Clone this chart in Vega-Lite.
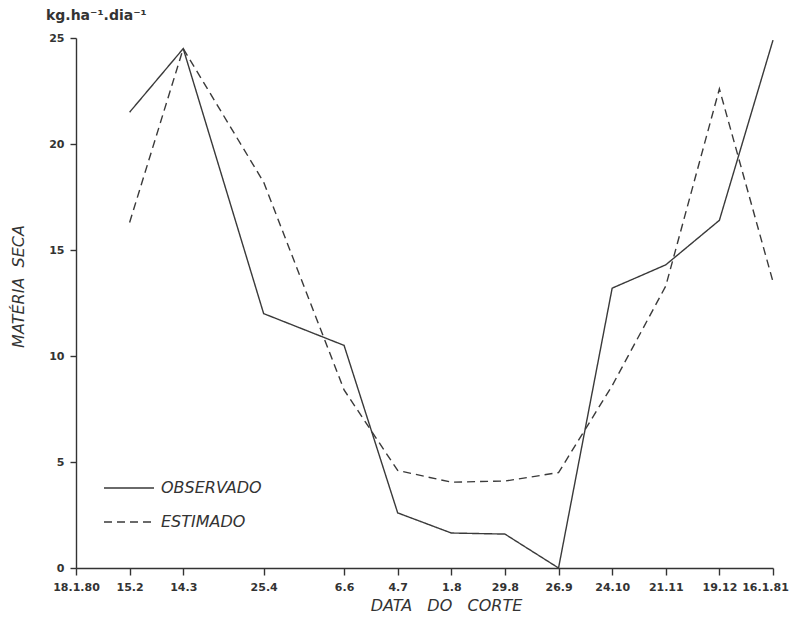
{
  "$schema": "https://vega.github.io/schema/vega-lite/v6.json",
  "autosize": "none",
  "width": 697,
  "height": 530,
  "padding": {"left": 76, "top": 38, "right": 17, "bottom": 51},
  "background": "white",
  "title": {
    "text": "kg.ha⁻¹.dia⁻¹",
    "anchor": "start",
    "frame": "group",
    "dx": -30,
    "offset": 9,
    "font": "DejaVu Sans",
    "fontSize": 14,
    "fontWeight": "bold",
    "color": "#333"
  },
  "data": {
    "values": [
      {"date": "1980-02-15", "serie": "OBSERVADO", "valor": 21.5},
      {"date": "1980-03-14", "serie": "OBSERVADO", "valor": 24.5},
      {"date": "1980-04-25", "serie": "OBSERVADO", "valor": 12.0},
      {"date": "1980-06-06", "serie": "OBSERVADO", "valor": 10.5},
      {"date": "1980-07-04", "serie": "OBSERVADO", "valor": 2.6},
      {"date": "1980-08-01", "serie": "OBSERVADO", "valor": 1.65},
      {"date": "1980-08-29", "serie": "OBSERVADO", "valor": 1.6},
      {"date": "1980-09-26", "serie": "OBSERVADO", "valor": 0.0},
      {"date": "1980-10-24", "serie": "OBSERVADO", "valor": 13.2},
      {"date": "1980-11-21", "serie": "OBSERVADO", "valor": 14.3},
      {"date": "1980-12-19", "serie": "OBSERVADO", "valor": 16.4},
      {"date": "1981-01-16", "serie": "OBSERVADO", "valor": 24.9},
      {"date": "1980-02-15", "serie": "ESTIMADO", "valor": 16.3},
      {"date": "1980-03-14", "serie": "ESTIMADO", "valor": 24.5},
      {"date": "1980-04-25", "serie": "ESTIMADO", "valor": 18.2},
      {"date": "1980-06-06", "serie": "ESTIMADO", "valor": 8.4},
      {"date": "1980-07-04", "serie": "ESTIMADO", "valor": 4.6},
      {"date": "1980-08-01", "serie": "ESTIMADO", "valor": 4.05},
      {"date": "1980-08-29", "serie": "ESTIMADO", "valor": 4.1},
      {"date": "1980-09-26", "serie": "ESTIMADO", "valor": 4.5},
      {"date": "1980-10-24", "serie": "ESTIMADO", "valor": 8.6},
      {"date": "1980-11-21", "serie": "ESTIMADO", "valor": 13.3},
      {"date": "1980-12-19", "serie": "ESTIMADO", "valor": 22.6},
      {"date": "1981-01-16", "serie": "ESTIMADO", "valor": 13.5}
    ]
  },
  "mark": {"type": "line", "color": "#3a3a3a", "strokeWidth": 1.4},
  "encoding": {
    "x": {
      "field": "date",
      "type": "temporal",
      "scale": {
        "type": "utc",
        "domain": [
          {"year": 1980, "month": 1, "date": 18, "utc": true},
          {"year": 1981, "month": 1, "date": 16, "utc": true}
        ],
        "nice": false
      },
      "axis": {
        "title": "DATA\u00a0\u00a0\u00a0DO\u00a0\u00a0\u00a0CORTE",
        "values": [
          {"year": 1980, "month": 1, "date": 18, "utc": true},
          {"year": 1980, "month": 2, "date": 15, "utc": true},
          {"year": 1980, "month": 3, "date": 14, "utc": true},
          {"year": 1980, "month": 4, "date": 25, "utc": true},
          {"year": 1980, "month": 6, "date": 6, "utc": true},
          {"year": 1980, "month": 7, "date": 4, "utc": true},
          {"year": 1980, "month": 8, "date": 1, "utc": true},
          {"year": 1980, "month": 8, "date": 29, "utc": true},
          {"year": 1980, "month": 9, "date": 26, "utc": true},
          {"year": 1980, "month": 10, "date": 24, "utc": true},
          {"year": 1980, "month": 11, "date": 21, "utc": true},
          {"year": 1980, "month": 12, "date": 19, "utc": true},
          {"year": 1981, "month": 1, "date": 16, "utc": true}
        ],
        "labelExpr": "utcdate(datum.value) + '.' + (utcmonth(datum.value) + 1) + (utcmonth(datum.value) == 0 ? '.' + (utcyear(datum.value) % 100) : '')",
        "labelOffset": {"condition": {"test": "utcyear(datum.value) == 1981", "value": -8}, "value": 0},
        "grid": false,
        "domainColor": "#333",
        "domainWidth": 1.4,
        "tickColor": "#333",
        "tickWidth": 1.4,
        "tickSize": 7,
        "labelFont": "DejaVu Sans",
        "labelFontSize": 11,
        "labelFontWeight": "bold",
        "labelColor": "#333",
        "labelPadding": 6,
        "labelFlush": false,
        "labelOverlap": false,
        "titleFont": "DejaVu Sans",
        "titleFontSize": 16,
        "titleFontWeight": "normal",
        "titleFontStyle": "italic",
        "titleColor": "#333",
        "titleX": 370,
        "titlePadding": 5
      }
    },
    "y": {
      "field": "valor",
      "type": "quantitative",
      "scale": {"domain": [0, 25], "nice": false},
      "axis": {
        "title": "MATÉRIA\u00a0\u00a0SECA",
        "values": [0, 5, 10, 15, 20, 25],
        "grid": false,
        "domainColor": "#333",
        "domainWidth": 1.4,
        "tickColor": "#333",
        "tickWidth": 1.4,
        "tickSize": 6,
        "labelFont": "DejaVu Sans",
        "labelFontSize": 11,
        "labelFontWeight": "bold",
        "labelColor": "#333",
        "labelPadding": 6,
        "titleFont": "DejaVu Sans",
        "titleFontSize": 16,
        "titleFontWeight": "normal",
        "titleFontStyle": "italic",
        "titleColor": "#333",
        "titleX": -50,
        "titleY": 248
      }
    },
    "strokeDash": {
      "field": "serie",
      "type": "nominal",
      "scale": {"domain": ["OBSERVADO", "ESTIMADO"], "range": [[1, 0], [8, 5]]},
      "legend": {
        "title": null,
        "orient": "none",
        "legendX": 27,
        "legendY": 424,
        "symbolType": "stroke",
        "symbolSize": 2500,
        "symbolStrokeColor": "#3a3a3a",
        "symbolStrokeWidth": 1.4,
        "labelFont": "DejaVu Sans",
        "labelFontSize": 16,
        "labelFontStyle": "italic",
        "labelColor": "#333",
        "labelOffset": 6,
        "rowPadding": 0
      }
    }
  },
  "config": {"view": {"stroke": null}}
}
